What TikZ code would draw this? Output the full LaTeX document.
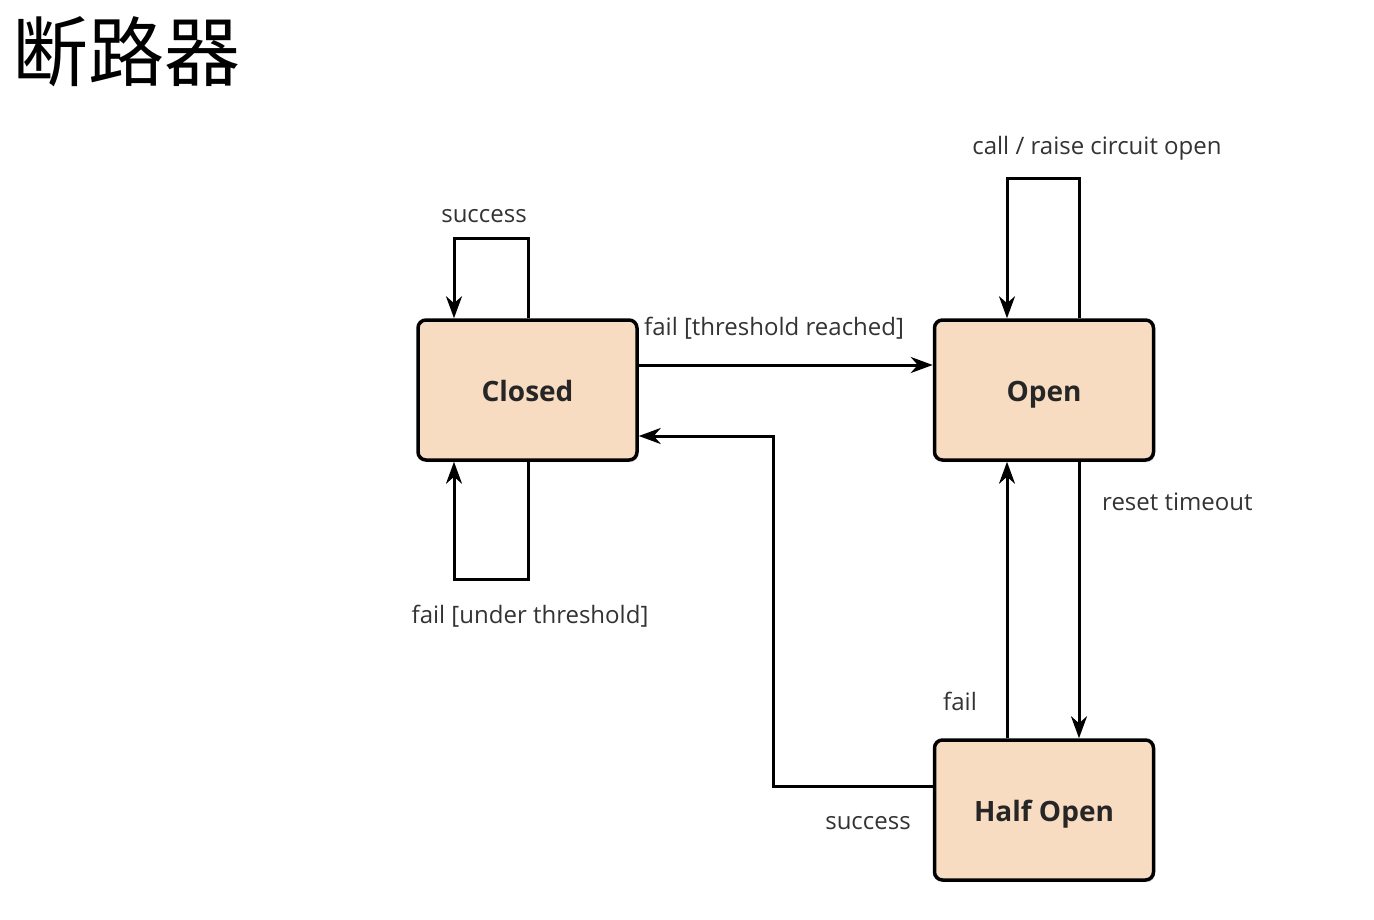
\documentclass[tikz,border=0pt]{standalone}
\usepackage{fontspec}
\setmainfont{Open Sans}
\newfontfamily\cjk{Noto Sans CJK SC}
\usetikzlibrary{arrows.meta,shadows}
\definecolor{boxfill}{HTML}{F8DCC2}
\definecolor{lbl}{HTML}{333333}
\tikzset{
  state/.style={draw=black, line width=3.5pt, fill=boxfill, rounded corners=8pt,
    minimum width=219pt, minimum height=140pt, inner sep=0pt,
    text height=24pt, text depth=2pt,
    font=\fontsize{28}{32}\selectfont\bfseries, text=black!85,
    drop shadow={shadow xshift=1.5pt, shadow yshift=-2pt, opacity=0.35}},
  conn/.style={line width=3pt, -{Stealth[length=22pt,width=16pt,inset=7pt]}},
  lab/.style={font=\fontsize{24}{28}\selectfont, text=lbl, inner sep=0pt}
}
\begin{document}
\begin{tikzpicture}[x=1pt,y=-1pt]
\useasboundingbox (0,0) rectangle (1374,920);
\node[anchor=west, inner sep=0pt, font=\cjk\fontsize{76}{84}\selectfont] (title) at (12,52) {断路器};

\node[state] (closed) at (527.5,390) {Closed};
\node[state] (open) at (1044,390) {Open};
\node[state] (half) at (1044,810) {Half Open};

% closed success loop
\coordinate (c1) at (528,239);
\coordinate (c2) at (454,239);
\draw[conn] (closed.north -| c1) -- (c1) -- (c2) -- (closed.north -| c2);
\node[lab] (lsucc1) at (484,216) {success};

% closed fail under threshold loop
\coordinate (c3) at (528,579);
\coordinate (c4) at (454,579);
\draw[conn] (closed.south -| c3) -- (c3) -- (c4) -- (closed.south -| c4);
\node[lab] (lfailu) at (530,616) {fail [under threshold]};

% closed -> open
\coordinate (c5) at (637,365);
\draw[conn] (closed.east |- c5) -- (open.west |- c5);
\node[lab, anchor=west] (lfailt) at (644,328) {fail [threshold reached]};

% open self loop
\coordinate (o1) at (1079,179);
\coordinate (o2) at (1007,179);
\draw[conn] (open.north -| o1) -- (o1) -- (o2) -- (open.north -| o2);
\node[lab] (lcall) at (1097,148) {call / raise circuit open};

% open -> half open
\coordinate (o3) at (1079,600);
\draw[conn] (open.south -| o3) -- (half.north -| o3);
\node[lab, anchor=west] (lreset) at (1102,502) {reset timeout};

% half open -> open
\coordinate (o4) at (1007,600);
\draw[conn] (half.north -| o4) -- (open.south -| o4);
\node[lab] (lfail) at (960,701) {fail};

% half open -> closed
\coordinate (h1) at (773,786);
\coordinate (h2) at (773,436);
\draw[conn] (half.west |- h1) -- (h1) -- (h2) -- (closed.east |- h2);
\node[lab] (lsucc2) at (868,823) {success};
\end{tikzpicture}
\end{document}
